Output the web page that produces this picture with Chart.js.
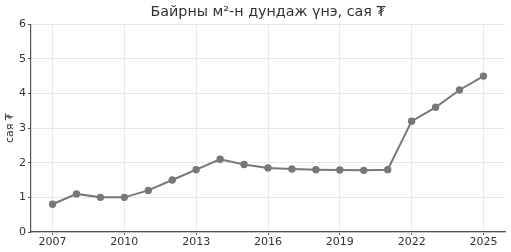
<!DOCTYPE html>
<html>
<head>
<meta charset="utf-8">
<script src="https://cdn.jsdelivr.net/npm/chart.js@4"></script>
<style>
  html, body { margin: 0; padding: 0; background: #fff; }
  #wrap { width: 511px; height: 252px; }
</style>
</head>
<body>
<div id="wrap"><canvas id="priceChart"></canvas></div>
<script>
const years = [2007, 2008, 2009, 2010, 2011, 2012, 2013, 2014, 2015, 2016, 2017, 2018, 2019, 2020, 2021, 2022, 2023, 2024, 2025];
const prices = [0.8, 1.1, 1.0, 1.0, 1.2, 1.5, 1.8, 2.1, 1.95, 1.85, 1.82, 1.8, 1.79, 1.78, 1.8, 3.2, 3.6, 4.1, 4.5];
const xTicks = [2007, 2010, 2013, 2016, 2019, 2022, 2025];
const yTicks = [0, 1, 2, 3, 4, 5, 6];

const font = "'DejaVu Sans', sans-serif";
const textColor = '#333';

const ctx = document.getElementById('priceChart').getContext('2d');
new Chart(ctx, {
    type: 'line',
    data: {
        datasets: [{
            data: years.map((y, i) => ({ x: y, y: prices[i] })),
            borderColor: '#777',
            backgroundColor: '#777',
            borderWidth: 2,
            pointRadius: 2.7,
            pointHoverRadius: 2.7,
            tension: 0
        }]
    },
    options: {
        responsive: true,
        maintainAspectRatio: false,
        animation: false,
        layout: { padding: { left: 0, right: 6, top: 0, bottom: 0 } },
        plugins: {
            legend: { display: false },
            tooltip: { enabled: false },
            title: {
                display: true,
                fullSize: false,
                text: 'Байрны м²-н дундаж үнэ, сая ₮',
                color: textColor,
                font: { family: font, size: 14.3, weight: 'normal' },
                padding: { top: 4, bottom: 3 }
            }
        },
        scales: {
            x: {
                type: 'linear',
                min: 2006.1,
                max: 2025.9,
                afterBuildTicks: axis => { axis.ticks = xTicks.map(v => ({ value: v })); },
                afterFit: axis => { axis.height = 20; },
                ticks: {
                    color: textColor,
                    font: { family: font, size: 11 },
                    padding: 1,
                    maxRotation: 0,
                    callback: v => String(v)
                },
                grid: {
                    color: '#e8e8e8',
                    borderDash: [1, 2],
                    tickColor: '#555',
                    tickLength: 3,
                    tickBorderDash: []
                },
                border: { color: '#555', width: 1.2 }
            },
            y: {
                min: 0,
                max: 6,
                afterBuildTicks: axis => { axis.ticks = yTicks.map(v => ({ value: v })); },
                afterFit: axis => { axis.width = 31; },
                title: {
                    display: true,
                    text: 'сая ₮',
                    color: textColor,
                    font: { family: font, size: 11 },
                    padding: { top: 4, bottom: 0 }
                },
                ticks: {
                    color: textColor,
                    font: { family: font, size: 11 },
                    padding: 2
                },
                grid: {
                    color: '#e8e8e8',
                    borderDash: [1, 2],
                    tickColor: '#555',
                    tickLength: 3,
                    tickBorderDash: []
                },
                border: { color: '#555', width: 1.2 }
            }
        }
    }
});
</script>
</body>
</html>
